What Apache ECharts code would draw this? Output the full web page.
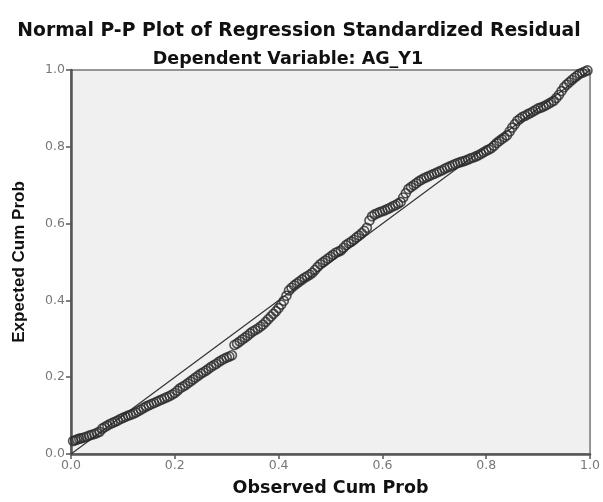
<!DOCTYPE html>
<html>
<head>
<meta charset="utf-8">
<script src="https://cdn.jsdelivr.net/npm/echarts@6/dist/echarts.min.js"></script>
<style>html,body{margin:0;padding:0;background:#fff;}#c{width:603px;height:502px;}</style>
</head>
<body>
<div id="c"></div>
<script>
const titleText = "Normal P-P Plot of Regression Standardized Residual";
const subtitleText = "Dependent Variable: AG_Y1";
const xName = "Observed Cum Prob";
const yName = "Expected Cum Prob";
const tickLabels = ["0.0", "0.2", "0.4", "0.6", "0.8", "1.0"];

const observed = [0.004,0.008,0.012,0.016,0.02,0.025,0.03,0.035,0.04,0.045,0.05,0.055,0.06,0.065,0.07,0.075,0.08,0.085,0.09,0.095,
  0.10,0.105,0.11,0.115,0.12,0.125,0.13,0.135,0.14,0.145,0.15,0.155,0.16,0.165,0.17,0.175,0.18,0.185,0.19,0.195,
  0.20,0.205,0.21,0.215,0.22,0.225,0.23,0.235,0.24,0.245,0.25,0.255,0.26,0.265,0.27,0.275,0.28,0.285,0.29,0.295,
  0.30,0.305,0.31,0.315,0.32,0.325,0.33,0.335,0.34,0.345,0.35,0.355,0.36,0.365,0.37,0.375,0.38,0.385,0.39,0.395,
  0.40,0.405,0.41,0.415,0.42,0.425,0.43,0.435,0.44,0.445,0.45,0.455,0.46,0.465,0.47,0.475,0.48,0.485,0.49,0.495,
  0.50,0.505,0.51,0.515,0.52,0.525,0.53,0.535,0.54,0.545,0.55,0.555,0.56,0.565,0.57,0.575,0.58,0.585,0.59,0.595,
  0.60,0.605,0.61,0.615,0.62,0.625,0.63,0.635,0.64,0.645,0.65,0.655,0.66,0.665,0.67,0.675,0.68,0.685,0.69,0.695,
  0.70,0.705,0.71,0.715,0.72,0.725,0.73,0.735,0.74,0.745,0.75,0.755,0.76,0.765,0.77,0.775,0.78,0.785,0.79,0.795,
  0.80,0.805,0.81,0.815,0.82,0.825,0.83,0.835,0.84,0.845,0.85,0.855,0.86,0.865,0.87,0.875,0.88,0.885,0.89,0.895,
  0.90,0.905,0.91,0.915,0.92,0.925,0.93,0.935,0.94,0.945,0.95,0.955,0.96,0.965,0.97,0.975,0.98,0.985,0.99,0.995];
const expected = [0.034,0.036,0.038,0.040,0.041,0.043,0.045,0.048,0.050,0.052,0.055,0.058,0.066,0.070,0.074,0.078,0.081,0.084,0.087,0.091,
  0.094,0.097,0.100,0.102,0.105,0.108,0.112,0.116,0.120,0.124,0.127,0.130,0.133,0.136,0.139,0.142,0.145,0.148,0.151,0.155,
  0.159,0.165,0.171,0.175,0.179,0.184,0.189,0.194,0.199,0.204,0.209,0.213,0.217,0.222,0.227,0.231,0.235,0.240,0.244,0.248,
  0.251,0.254,0.257,0.284,0.288,0.293,0.298,0.303,0.308,0.314,0.319,0.323,0.327,0.332,0.337,0.344,0.351,0.358,0.365,0.372,
  0.380,0.389,0.399,0.412,0.426,0.433,0.439,0.444,0.449,0.454,0.459,0.463,0.467,0.472,0.479,0.487,0.494,0.499,0.504,0.509,
  0.514,0.519,0.524,0.527,0.530,0.537,0.544,0.549,0.553,0.558,0.564,0.569,0.575,0.581,0.589,0.608,0.619,0.624,0.627,0.630,
  0.632,0.635,0.638,0.641,0.645,0.648,0.652,0.656,0.668,0.679,0.690,0.695,0.700,0.705,0.710,0.714,0.718,0.721,0.724,0.727,
  0.730,0.733,0.736,0.739,0.743,0.746,0.749,0.752,0.755,0.758,0.760,0.762,0.764,0.767,0.770,0.772,0.775,0.778,0.782,0.786,
  0.790,0.793,0.797,0.803,0.810,0.815,0.820,0.825,0.830,0.840,0.850,0.859,0.868,0.873,0.878,0.881,0.885,0.888,0.892,0.896,
  0.900,0.902,0.905,0.908,0.912,0.916,0.920,0.927,0.935,0.945,0.955,0.962,0.968,0.974,0.980,0.985,0.990,0.993,0.996,0.999];
const refLine = [[0,0],[1,1]];

const chart = echarts.init(document.getElementById('c'), null, {renderer:'canvas'});
const axisCommon = {
  min: 0, max: 1, interval: 0.2,
  nameLocation: 'middle',
  axisLine: {show: true, lineStyle: {color: '#555', width: 2.5}},
  axisTick: {show: true, length: 5, lineStyle: {color: '#555', width: 1.5}},
  axisLabel: {fontFamily: 'DejaVu Sans', fontSize: 12.5, color: '#777',
    formatter: v => tickLabels[Math.round(v / 0.2)]},
  splitLine: {show: false}
};
chart.setOption({
  backgroundColor: '#fff',
  animation: false,
  title: [
    {text: titleText, left: 294, top: 17, textAlign: 'center',
     textStyle: {fontFamily: 'DejaVu Sans', fontWeight: 'bold', fontSize: 18.8, color: '#111'}},
    {text: subtitleText, left: 283, top: 45, textAlign: 'center',
     textStyle: {fontFamily: 'DejaVu Sans', fontWeight: 'bold', fontSize: 17.5, color: '#111'}}
  ],
  grid: {left: 71, right: 10, top: 70, bottom: 45, show: true,
         backgroundColor: '#f0f0f0', borderColor: '#777', borderWidth: 1.5},
  xAxis: Object.assign({}, axisCommon, {type: 'value', name: xName, nameGap: 25,
    nameTextStyle: {fontFamily: 'DejaVu Sans', fontWeight: 'bold', fontSize: 17.5, color: '#111'},
    axisLabel: Object.assign({}, axisCommon.axisLabel, {margin: 5})}),
  yAxis: Object.assign({}, axisCommon, {type: 'value', name: yName, nameGap: 43,
    nameTextStyle: {fontFamily: 'Liberation Sans', fontWeight: 'bold', fontSize: 17, color: '#111'},
    axisLabel: Object.assign({}, axisCommon.axisLabel, {margin: 6})}),
  series: [
    {type: 'line', data: refLine, symbol: 'none', silent: true,
     lineStyle: {color: '#333', width: 1.2}, z: 2},
    {type: 'scatter', data: observed.map((x, i) => [x, expected[i]]),
     symbol: 'circle', symbolSize: 9,
     itemStyle: {color: 'rgba(0,0,0,0)', borderColor: '#2a2a2a', borderWidth: 1.6}, z: 3}
  ]
});
</script>
</body>
</html>
